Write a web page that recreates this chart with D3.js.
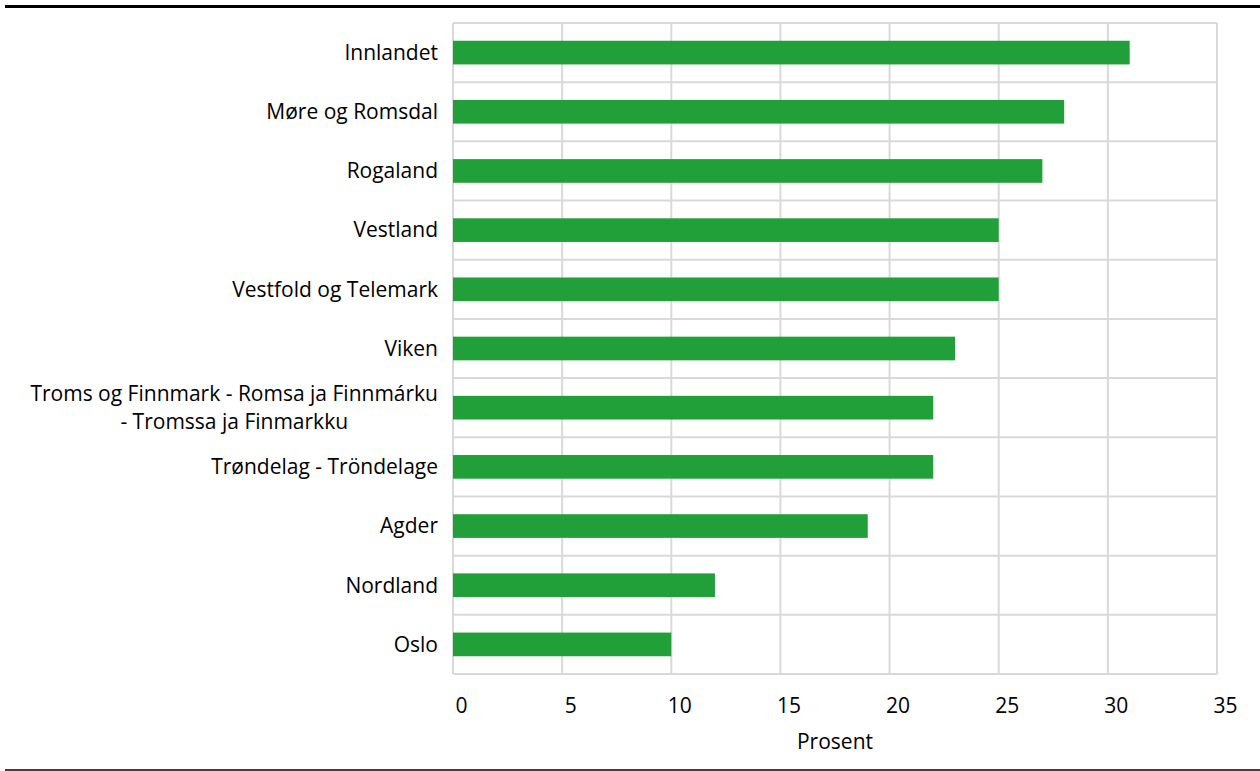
<!DOCTYPE html>
<html>
<head>
<meta charset="utf-8">
<style>
  body { margin: 0; background: #fff; }
  svg { display: block; font-family: "Open Sans", sans-serif; }
</style>
</head>
<body>
<svg width="1260" height="771"></svg>
<script src="https://cdn.jsdelivr.net/npm/d3@7"></script>
<script>
// data
var regions = ['Innlandet', 'Møre og Romsdal', 'Rogaland', 'Vestland', 'Vestfold og Telemark', 'Viken',
  'Troms og Finnmark - Romsa ja Finnmárku - Tromssa ja Finmarkku', 'Trøndelag - Tröndelage',
  'Agder', 'Nordland', 'Oslo'];
var prosent = [31, 28, 27, 25, 25, 23, 22, 22, 19, 12, 10];
var xTicks = [0, 5, 10, 15, 20, 25, 30, 35];
var xTitle = 'Prosent';

var svg = d3.select('svg');
var W = +svg.attr('width'), H = +svg.attr('height');
var margin = {left: 453, right: 43, top: 23, bottom: 97};
var width = W - margin.left - margin.right;
var height = H - margin.top - margin.bottom;
var fs = '21px';

var data = regions.map(function (r, i) { return {name: r, value: prosent[i]}; });

var x = d3.scaleLinear().domain([0, 35]).range([0, width]);
var y = d3.scaleBand().domain(regions).range([0, height]).paddingInner(0.6).paddingOuter(0.3);

// top and bottom rules
svg.append('line').attr('x1', 5).attr('x2', W).attr('y1', 6.5).attr('y2', 6.5)
  .attr('stroke', '#000').attr('stroke-width', 3);
svg.append('line').attr('x1', 5).attr('x2', W).attr('y1', 770).attr('y2', 770)
  .attr('stroke', '#000').attr('stroke-width', 1.3);

var g = svg.append('g').attr('transform', `translate(${margin.left}, ${margin.top})`);

// grid
var grid = '#d9d9d9';
g.selectAll('.vgrid').data(xTicks).enter().append('line')
  .attr('x1', function (d) { return x(d); }).attr('x2', function (d) { return x(d); })
  .attr('y1', 0).attr('y2', height)
  .attr('stroke', grid).attr('stroke-width', 2);
var bounds = d3.range(regions.length + 1).map(function (i) { return i * height / regions.length; });
g.selectAll('.hgrid').data(bounds).enter().append('line')
  .attr('x1', 0).attr('x2', width)
  .attr('y1', function (d) { return d; }).attr('y2', function (d) { return d; })
  .attr('stroke', grid).attr('stroke-width', 2);

// bars
g.selectAll('.bar').data(data).enter().append('rect')
  .attr('x', 0)
  .attr('y', function (d) { return y(d.name); })
  .attr('width', function (d) { return x(d.value); })
  .attr('height', y.bandwidth())
  .attr('fill', '#21a03a');

// x axis labels
var xAxis = g.append('g').attr('transform', `translate(0, ${height})`)
  .call(d3.axisBottom(x).tickValues(xTicks).tickSize(0).tickPadding(24));
xAxis.select('.domain').remove();
xAxis.selectAll('text')
  .attr('dx', 8)
  .style('font-family', '"Open Sans", sans-serif')
  .style('font-size', fs)
  .attr('fill', '#000');

g.append('text')
  .attr('x', x(17.5) + 0).attr('y', height + 75)
  .attr('text-anchor', 'middle')
  .style('font-size', fs)
  .text(xTitle);

// category labels, wrapped and centred as a block
var maxW = 418;
var rightX = -15;
regions.forEach(function (name) {
  var cy = y(name) + y.bandwidth() / 2;
  var t = g.append('text').style('font-size', fs).attr('fill', '#000');
  var words = name.split(' '), lines = [], line = [];
  var probe = t.append('tspan');
  words.forEach(function (w) {
    line.push(w);
    probe.text(line.join(' '));
    if (probe.node().getComputedTextLength() > maxW && line.length > 1) {
      line.pop();
      lines.push(line.join(' '));
      line = [w];
    }
  });
  lines.push(line.join(' '));
  probe.remove();
  var lh = 28;
  var widths = lines.map(function (l) {
    var s = t.append('tspan').text(l);
    var w = s.node().getComputedTextLength();
    s.remove();
    return w;
  });
  var bw = d3.max(widths);
  var cx = rightX - bw / 2;
  lines.forEach(function (l, i) {
    t.append('tspan')
      .attr('x', lines.length > 1 ? cx : rightX)
      .attr('text-anchor', lines.length > 1 ? 'middle' : 'end')
      .attr('y', cy + (i - (lines.length - 1) / 2) * lh)
      .attr('dy', '0.35em')
      .text(l);
  });
});
</script>
</body>
</html>
